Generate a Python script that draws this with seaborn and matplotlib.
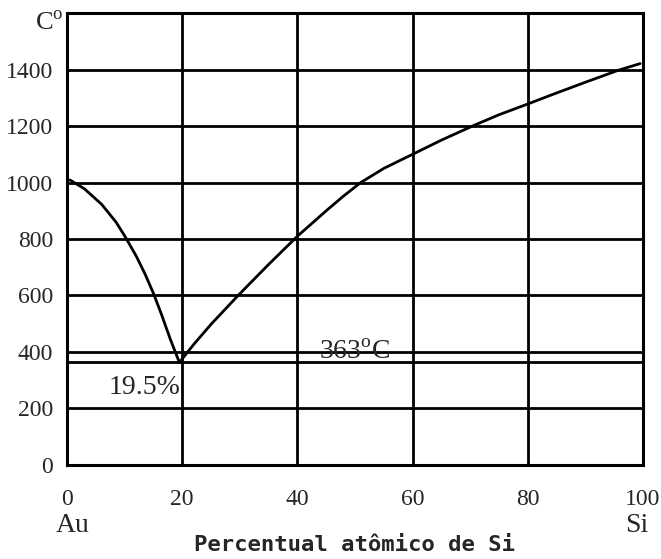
import matplotlib
matplotlib.use("Agg")
import matplotlib.pyplot as plt
import seaborn as sns
import pandas as pd

# Au–Si liquidus, atomic % Si vs temperature (°C)
left_x = [0.5, 3.0, 6.0, 8.5, 10.1, 12.0, 13.5, 15.0, 16.4, 17.9, 19.5]
left_y = [1009, 978, 923, 860, 808, 740, 678, 608, 533, 447, 363]
right_x = [19.5, 22.0, 25.0, 29.7, 35.0, 40.0, 45.0, 48.0, 51.0, 55.0, 60.0,
           65.0, 70.4, 75.0, 80.0, 85.0, 90.0, 95.8, 99.5]
right_y = [363, 427, 498, 600, 710, 810, 900, 952, 1000, 1050, 1100,
           1150, 1200, 1240, 1278, 1317, 1355, 1398, 1421]

eutectic_temp = 363
eutectic_comp = 19.5
x_ticks = [0, 20, 40, 60, 80, 100]
y_ticks = [0, 200, 400, 600, 800, 1000, 1200, 1400]

sns.set_style("white")
plt.rcParams["font.family"] = ["Liberation Serif", "DejaVu Serif"]
plt.rcParams["mathtext.fontset"] = "custom"
plt.rcParams["mathtext.rm"] = "Liberation Serif"

fig = plt.figure(figsize=(6.61, 5.59), dpi=100)
ax = fig.add_axes([0.1014, 0.1682, 0.8714, 0.8085])

left = pd.DataFrame({"x": left_x, "T": left_y})
right = pd.DataFrame({"x": right_x, "T": right_y})
sns.lineplot(data=left, x="x", y="T", ax=ax, color="black", lw=2.0, sort=False)
sns.lineplot(data=right, x="x", y="T", ax=ax, color="black", lw=2.0, sort=False)

ax.axhline(eutectic_temp, color="black", lw=2.0, zorder=1)

ax.set_xlim(0, 100)
ax.set_ylim(0, 1600)
ax.set_xticks(x_ticks)
ax.set_yticks(y_ticks)
ax.grid(True, color="black", lw=2.0, zorder=0)
ax.set_axisbelow(True)
for s in ax.spines.values():
    s.set_color("black")
    s.set_linewidth(2.2)

ax.tick_params(axis="x", length=0, pad=17, labelsize=17)
ax.tick_params(axis="y", length=0, pad=10, labelsize=17)

ax.set_xlabel("")
ax.set_ylabel("")
fig.text(0.537, 0.025, "Percentual atômico de Si", family="DejaVu Sans Mono",
         fontweight="bold", fontsize=16, ha="center", va="center")

ax.text(-0.007, 1565, r"C$^{\mathrm{o}}$", transform=ax.get_yaxis_transform(),
        ha="right", va="center", fontsize=19)
ax.text(1.0, -0.133, "Au", transform=ax.get_xaxis_transform(),
        ha="center", va="center", fontsize=20)
ax.text(99.0, -0.133, "Si", transform=ax.get_xaxis_transform(),
        ha="center", va="center", fontsize=20)

ax.text(13.5, 276, f"{eutectic_comp}%", ha="center", va="center", fontsize=20)
ax.text(50, 399, f"{eutectic_temp}" + r"$^{\mathrm{o}}$C", ha="center", va="center",
        fontsize=20)

fig.savefig("out.png", dpi=100)
